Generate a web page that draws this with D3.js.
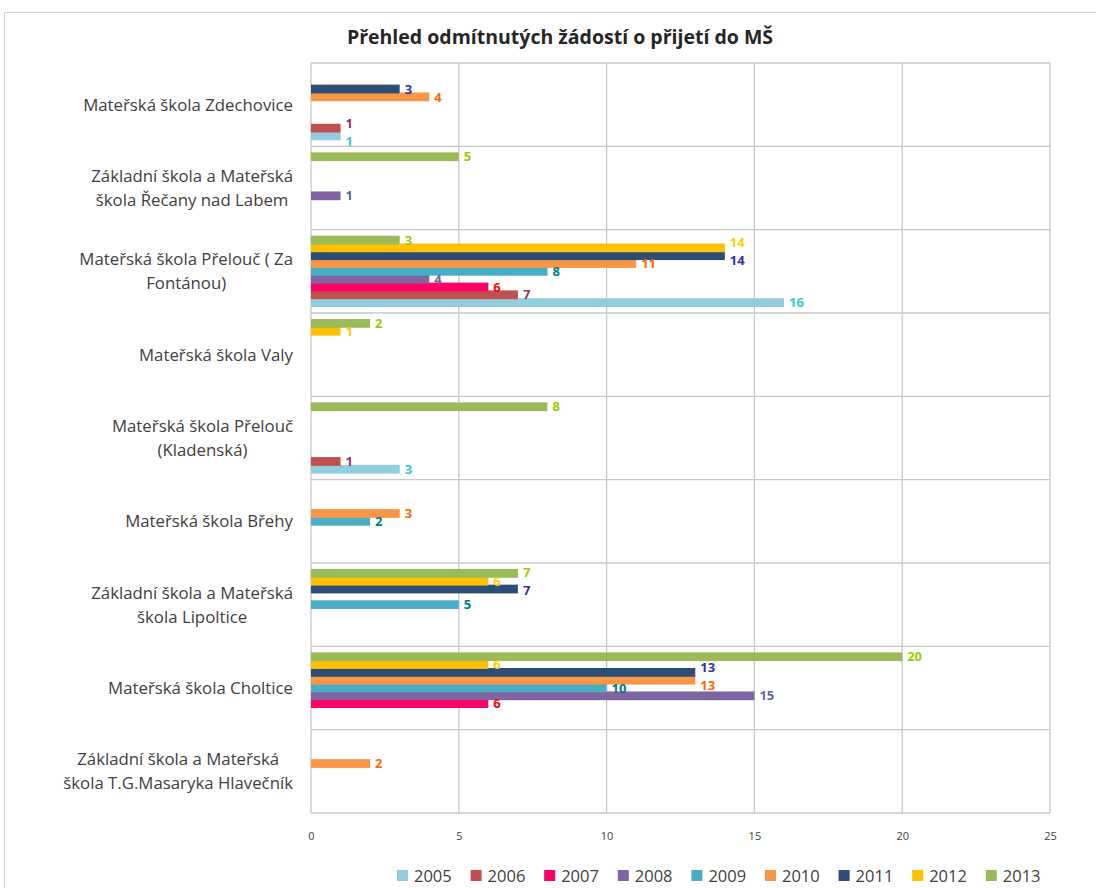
<!DOCTYPE html>
<html><head><meta charset="utf-8">
<script src="https://cdn.jsdelivr.net/npm/d3@7"></script>
<style>
body{margin:0;background:#fff;}
svg{display:block;font-family:"Open Sans","Liberation Sans",Arial,sans-serif;}
</style></head>
<body><svg id="c" width="1096" height="888"></svg>
<script>
const title = "Přehled odmítnutých žádostí o přijetí do MŠ";
const categories = [
  "Mateřská škola Zdechovice",
  "Základní škola a Mateřská\nškola Řečany nad Labem",
  "Mateřská škola Přelouč ( Za\nFontánou)",
  "Mateřská škola Valy",
  "Mateřská škola Přelouč\n(Kladenská)",
  "Mateřská škola Břehy",
  "Základní škola a Mateřská\nškola Lipoltice",
  "Mateřská škola Choltice",
  "Základní škola a Mateřská\nškola T.G.Masaryka Hlavečník"
];
const years = ["2005","2006","2007","2008","2009","2010","2011","2012","2013"];
const v2005 = [1, null, 16, null, 3, null, null, null, null];
const v2006 = [1, null, 7, null, 1, null, null, null, null];
const v2007 = [null, null, 6, null, null, null, null, 6, null];
const v2008 = [null, 1, 4, null, null, null, null, 15, null];
const v2009 = [null, null, 8, null, null, 2, 5, 10, null];
const v2010 = [4, null, 11, null, null, 3, null, 13, 2];
const v2011 = [3, null, 14, null, null, null, 7, 13, null];
const v2012 = [null, null, 14, 1, null, null, 6, 6, null];
const v2013 = [null, 5, 3, 2, 8, null, 7, 20, null];
const seriesValues = [v2005, v2006, v2007, v2008, v2009, v2010, v2011, v2012, v2013];
const xTicks = [0, 5, 10, 15, 20, 25];

const barColors = ["#93CDDD","#C0504D","#FF0066","#8064A2","#4BACC6","#F79646","#2C4D75","#FFC000","#9BBB59"];
const labelColors = ["#33CCCC","#993366","#FF0000","#666699","#008080","#FF6600","#333399","#FFCC00","#99CC00"];

const svg = d3.select("#c");
const L = 311, R = 1050, T = 63, B = 813;

// chart border
svg.append("rect").attr("x",4.5).attr("y",12.5).attr("width",1200).attr("height",1000)
  .attr("fill","none").attr("stroke","#D0D0D0").attr("stroke-width",1);

svg.append("text").attr("x",560).attr("y",44).attr("text-anchor","middle")
  .attr("font-size",19.5).attr("font-weight","bold").attr("fill","#262626").text(title);

const x = d3.scaleLinear().domain([0,25]).range([L,R]);
const y0 = d3.scaleBand().domain(categories).range([T,B]);
const padOuter = 6.5;
const y1 = d3.scaleBand().domain(years.slice().reverse()).range([padOuter, y0.bandwidth()-padOuter]);
const barH = y1.bandwidth()*1.12;

// gridlines
const g = svg.append("g");
g.selectAll("line.v").data(xTicks).join("line")
  .attr("x1",d=>x(d)).attr("x2",d=>x(d)).attr("y1",T).attr("y2",B)
  .attr("stroke","#C8C8C8").attr("stroke-width",1.3);
const bounds = categories.map(c=>y0(c)).concat([B]);
g.selectAll("line.h").data(bounds).join("line")
  .attr("x1",L).attr("x2",R).attr("y1",d=>d).attr("y2",d=>d)
  .attr("stroke","#C8C8C8").attr("stroke-width",1.3);

// x axis labels
svg.append("g").attr("transform",`translate(0,${B+11})`)
  .call(d3.axisBottom(x).tickValues(xTicks).tickSize(0).tickPadding(8))
  .call(s=>s.select(".domain").remove())
  .selectAll("text").attr("font-size",11).attr("fill","#404040")
  .attr("font-family","Open Sans, Liberation Sans, Arial, sans-serif");

// bars
const bars = [];
seriesValues.forEach((vals,si)=>{
  vals.forEach((v,ci)=>{ if(v!=null) bars.push({si, ci, v}); });
});
const barCenter = d=>y0(categories[d.ci])+y1(years[d.si])+y1.bandwidth()/2;
svg.append("g").selectAll("rect").data(bars).join("rect")
  .attr("x",x(0)).attr("y",d=>barCenter(d)-barH/2)
  .attr("width",d=>x(d.v)-x(0)).attr("height",barH)
  .attr("fill",d=>barColors[d.si]);

// data labels with simple collision avoidance
const labels = svg.append("g").selectAll("text").data(bars).join("text")
  .attr("x",d=>x(d.v)+5)
  .attr("dy","0.36em").attr("font-size",13).attr("font-weight","bold")
  .attr("fill",d=>labelColors[d.si]).text(d=>d.v);
labels.each(function(d){ d.ly = barCenter(d); d.x0 = x(d.v)+5; d.x1 = d.x0 + this.getComputedTextLength(); });
const minSep = 18;
for(let it=0; it<40; it++){
  for(let i=0;i<bars.length;i++) for(let j=i+1;j<bars.length;j++){
    const a=bars[i], b=bars[j];
    if(a.ci!==b.ci) continue;
    if(a.x1 < b.x0 - 1 || b.x1 < a.x0 - 1) continue;
    const d = Math.abs(a.ly-b.ly);
    if(d < minSep){
      const push=(minSep-d)/2;
      const up = a.ly < b.ly ? a : b, dn = a.ly < b.ly ? b : a;
      up.ly -= push; dn.ly += push;
    }
  }
}
labels.attr("y",d=>d.ly);

// category labels
const cl = svg.append("g");
categories.forEach(c=>{
  const lines = c.split("\n");
  const cy = y0(c)+y0.bandwidth()/2;
  const lh = 24;
  const t = cl.append("text").attr("font-size",16.8).attr("fill","#404040").attr("text-anchor","middle");
  lines.forEach((ln,i)=>{
    t.append("tspan").attr("y", cy + (i-(lines.length-1)/2)*lh).attr("dy","0.35em").text(ln);
  });
  let maxW = 0;
  t.selectAll("tspan").each(function(){ maxW = Math.max(maxW, this.getComputedTextLength()); });
  const cx = 293 - maxW/2;
  t.selectAll("tspan").attr("x", cx);
});

// legend
const lg = svg.append("g");
years.forEach((yr,i)=>{
  const lx = 397 + i*73.6;
  lg.append("rect").attr("x",lx).attr("y",870).attr("width",11).attr("height",11).attr("fill",barColors[i]);
  lg.append("text").attr("x",lx+17).attr("y",876).attr("dy","0.35em").attr("font-size",16.5).attr("fill","#404040").text(yr);
});
</script></body></html>
